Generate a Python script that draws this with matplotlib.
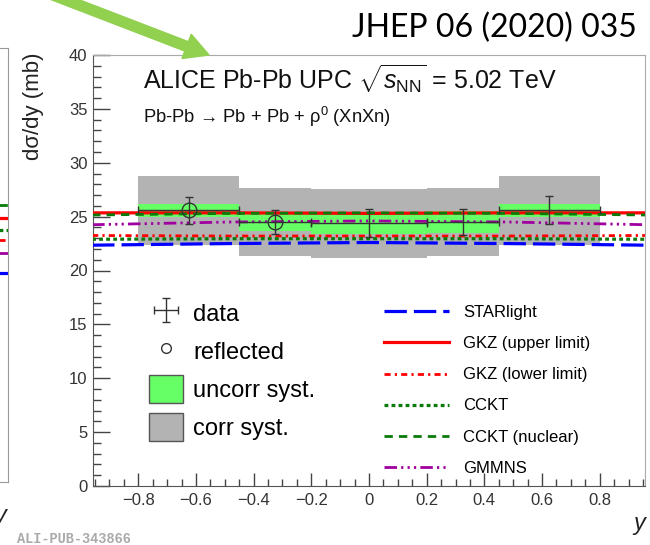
import numpy as np
import matplotlib
matplotlib.use('Agg')
import matplotlib.pyplot as plt
from matplotlib.patches import Rectangle, Patch, FancyArrow
from matplotlib.lines import Line2D
from matplotlib.transforms import IdentityTransform

plt.rcParams['font.family'] = ['Liberation Sans', 'DejaVu Sans']
plt.rcParams['mathtext.fontset'] = 'custom'
plt.rcParams['mathtext.rm'] = 'Liberation Sans'
plt.rcParams['mathtext.it'] = 'Liberation Sans:italic'
plt.rcParams['mathtext.sf'] = 'Liberation Sans'

# ---------------- data ----------------
bin_lo = [-0.8, -0.45, -0.2, 0.2, 0.45]
bin_hi = [-0.45, -0.2, 0.2, 0.45, 0.8]
xsec = [25.6, 24.5, 24.4, 24.5, 25.6]
stat_err = [1.25, 1.15, 1.3, 1.2, 1.3]
uncorr_err = [0.6, 0.85, 1.05, 1.05, 0.6]
corr_err = [3.2, 3.15, 3.2, 3.2, 3.2]
is_reflected = [True, True, False, False, False]

model_y = [-0.96, -0.48, 0.0, 0.48, 0.96]
starlight = [22.35, 22.5, 22.6, 22.5, 22.35]
gkz_upper = [25.35, 25.35, 25.3, 25.35, 25.35]
gkz_lower = [23.25, 23.2, 23.2, 23.2, 23.25]
cckt = [22.9, 22.95, 22.95, 22.95, 22.9]
cckt_nuclear = [25.15, 25.3, 25.35, 25.3, 25.15]
gmmns = [24.25, 24.5, 24.6, 24.5, 24.25]

# edge of the neighbouring (cut-off) panel: model values at its right edge
left_models = ['CCKT (nuclear)', 'GKZ (upper limit)', 'CCKT', 'GKZ (lower limit)', 'GMMNS', 'STARlight']
left_values = [25.5, 24.3, 23.2, 22.3, 21.1, 19.3]

x_ticks = [-0.8, -0.6, -0.4, -0.2, 0, 0.2, 0.4, 0.6, 0.8]
x_ticklabels = ['\u22120.8', '\u22120.6', '\u22120.4', '\u22120.2', '0', '0.2', '0.4', '0.6', '0.8']
y_ticks = [0, 5, 10, 15, 20, 25, 30, 35, 40]

# ---------------- styles ----------------
model_styles = {
    'STARlight': dict(color='#0000ff', lw=2.3, dashes=(7, 2.2)),
    'GKZ (upper limit)': dict(color='#ff0000', lw=2.3, ls='-'),
    'GKZ (lower limit)': dict(color='#ff0000', lw=2.0, dashes=(2.2, 1.5, 0.8, 1.5)),
    'CCKT': dict(color='#0a7a0a', lw=2.3, dashes=(1.2, 1.0)),
    'CCKT (nuclear)': dict(color='#0a7a0a', lw=2.0, dashes=(3.0, 2.2)),
    'GMMNS': dict(color='#a000a0', lw=2.0, dashes=(4.5, 1.5, 0.8, 1.5, 0.8, 1.5, 0.8, 1.5)),
}
model_data = {
    'STARlight': starlight,
    'GKZ (upper limit)': gkz_upper,
    'GKZ (lower limit)': gkz_lower,
    'CCKT': cckt,
    'CCKT (nuclear)': cckt_nuclear,
    'GMMNS': gmmns,
}

W, H = 650, 545
fx = lambda px: px / W
fy = lambda py: 1 - py / H

fig = plt.figure(figsize=(6.5, 5.45), dpi=100)
fig.patch.set_facecolor('white')

# ---------------- main panel ----------------
ax = fig.add_axes([fx(93), fy(486), (645 - 93) / W, (486 - 55) / H])
ax.set_xlim(-0.957, 0.957)
ax.set_ylim(0, 40)

green = '#66ff66'
grey = '#b3b3b3'
for lo, hi, v, c in zip(bin_lo, bin_hi, xsec, corr_err):
    ax.add_patch(Rectangle((lo, v - c), hi - lo, 2 * c, facecolor=grey, edgecolor='none', zorder=1))
for lo, hi, v, u in zip(bin_lo, bin_hi, xsec, uncorr_err):
    ax.add_patch(Rectangle((lo, v - u), hi - lo, 2 * u, facecolor=green, edgecolor='none', zorder=2))

for name, vals in model_data.items():
    ax.plot(model_y, vals, zorder=3, **model_styles[name])

centers = [(lo + hi) / 2 for lo, hi in zip(bin_lo, bin_hi)]
halfw = [(hi - lo) / 2 for lo, hi in zip(bin_lo, bin_hi)]
err_container = ax.errorbar(centers, xsec, xerr=halfw, yerr=stat_err, fmt='none',
                            ecolor='#333333', elinewidth=1.0, capsize=3, capthick=1.0, zorder=4)
rx = [c for c, r in zip(centers, is_reflected) if r]
ry = [v for v, r in zip(xsec, is_reflected) if r]
ax.plot(rx, ry, 'o', mfc='none', mec='#333333', mew=1.0, ms=10.5, zorder=5)

ax.set_xticks(x_ticks)
ax.set_xticklabels(x_ticklabels)
ax.set_xticks(np.arange(-0.95, 0.951, 0.05), minor=True)
ax.set_yticks(y_ticks)
ax.set_yticks(np.arange(0, 41, 1), minor=True)
ax.tick_params(which='both', direction='in', top=False, right=False, colors='#444444',
               labelcolor='#333333', labelsize=12)
ax.tick_params(axis='y', which='major', length=12, width=1, pad=4)
ax.tick_params(axis='y', which='minor', length=6, width=1)
ax.tick_params(axis='x', which='major', length=9.5, width=1, pad=5)
ax.tick_params(axis='x', which='minor', length=5, width=1)
for s in ['left', 'bottom']:
    ax.spines[s].set_color('#555555')
for s in ['top', 'right']:
    ax.spines[s].set_color('#aaaaaa')

# legends
data_handle = err_container
refl_handle = Line2D([], [], marker='o', mfc='none', mec='#333333', ls='none', ms=7, mew=1)
unc_handle = Patch(facecolor=green, edgecolor='#555555', lw=1)
cor_handle = Patch(facecolor=grey, edgecolor='#555555', lw=1)
leg1 = ax.legend([data_handle, refl_handle, unc_handle, cor_handle],
                 ['data', 'reflected', 'uncorr syst.', 'corr syst.'],
                 loc='upper left', bbox_to_anchor=(fx(149), fy(299)), bbox_transform=fig.transFigure,
                 frameon=False, fontsize=17, handlelength=1.45, handleheight=1.45,
                 handletextpad=0.42, labelspacing=0.42, borderpad=0, borderaxespad=0)
ax.add_artist(leg1)

names = list(model_styles.keys())
mh = [Line2D([], [], **model_styles[n]) for n in names]
ax.legend(mh, names, loc='upper left', bbox_to_anchor=(fx(384), fy(305)),
          bbox_transform=fig.transFigure, frameon=False, fontsize=12,
          handlelength=3.9, handletextpad=0.85, labelspacing=0.97, borderpad=0, borderaxespad=0)

# ---------------- texts ----------------
fig.text(fx(143), fy(90), r'ALICE Pb-Pb UPC $\sqrt{s_{\rm NN}}$ = 5.02 TeV', fontsize=18,
         va='baseline', ha='left', color='#111111')
fig.text(fx(143), fy(123), 'Pb-Pb \u2192 Pb + Pb + \u03c1$^{0}$ (XnXn)', fontsize=13.2,
         va='baseline', ha='left', color='#111111')
fig.text(fx(33), fy(53), 'd\u03c3/dy (mb)', rotation=90, ha='center', va='top', fontsize=16,
         color='#222222')
fig.text(fx(645), fy(530), 'y', fontsize=17, style='italic', ha='right', va='baseline', color='#222222')
fig.text(fx(6), fy(522), 'y', fontsize=17, style='italic', ha='right', va='baseline', color='#222222')
fig.text(fx(637), fy(37), 'JHEP 06 (2020) 035', fontsize=23, family=['Lato', 'DejaVu Sans'],
         ha='right', va='baseline', color='black')
fig.text(fx(17), fy(543), 'ALI-PUB-343866', fontsize=9.8, family=['Liberation Mono', 'DejaVu Sans Mono'],
         ha='left', va='baseline', color='#aaaaaa', weight='bold')

# ---------------- cut-off left panel ----------------
ax0 = fig.add_axes([fx(-300), fy(482), (308) / W, (482 - 48) / H])
ax0.set_xlim(0, 1)
ax0.set_ylim(0, 40)
for n, v in zip(left_models, left_values):
    ax0.plot([0.0, 1.0], [v, v], **model_styles[n])
ax0.set_xticks([])
ax0.set_yticks([])
for s in ax0.spines.values():
    s.set_color('#999999')

# ---------------- green arrow ----------------
arrow = FancyArrow(40, H + 10, 169, -65, width=10, head_width=26, head_length=24,
                   length_includes_head=True, color='#92d050', transform=IdentityTransform(),
                   clip_on=False)
fig.add_artist(arrow)

fig.savefig('out.png', dpi=100)
